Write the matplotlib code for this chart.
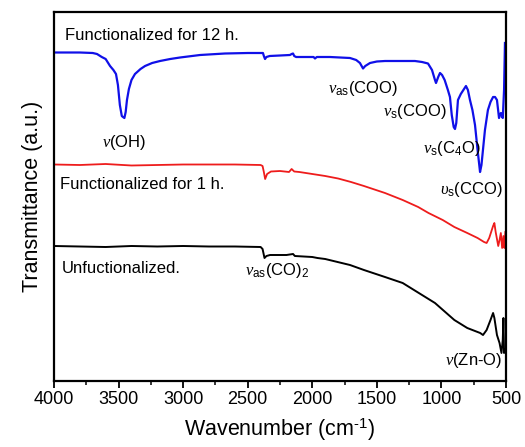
import matplotlib
matplotlib.use("Agg")
import matplotlib.pyplot as plt
from matplotlib.ticker import MultipleLocator

plt.rcParams['font.family'] = ['Liberation Sans', 'DejaVu Sans']
plt.rcParams['mathtext.fontset'] = 'custom'
plt.rcParams['mathtext.rm'] = 'Liberation Sans'
plt.rcParams['mathtext.it'] = 'Liberation Serif:italic'
plt.rcParams['mathtext.sf'] = 'Liberation Sans'

# ---- data (wavenumber cm^-1, transmittance in arbitrary units) ----
wn_12h = [4000, 3800, 3700, 3667, 3630, 3600, 3566, 3540, 3520, 3505, 3490, 3475, 3466,
          3455, 3445, 3435, 3420, 3400, 3373, 3330, 3295, 3240, 3179, 3100, 3024, 2869,
          2676, 2500, 2382, 2375, 2366, 2355, 2330, 2250, 2173, 2160, 2149, 2140, 2125,
          2050, 1990, 1979, 1965, 1863, 1708, 1660, 1631, 1607, 1590, 1553, 1500, 1437,
          1300, 1205, 1150, 1104, 1073, 1050, 1042, 1025, 1011, 995, 975, 950, 934, 920,
          905, 895, 885, 872, 850, 830, 810, 795, 779, 760, 740, 720, 701, 690, 663, 640,
          620, 600, 585, 570, 554, 545, 539, 530, 525, 515, 508]
tr_12h = [328.5, 328.5, 328, 327, 324, 322, 315, 311, 307, 296, 276, 265, 264,
          263, 269, 281, 292, 301, 307, 312, 315, 318, 320, 322, 323.5, 326,
          327.5, 328, 328, 325, 322, 324, 325, 325.5, 326, 327, 327.5, 325, 324,
          324, 324, 322.5, 324, 324, 323, 321, 318, 312.5, 315, 318, 319.5, 320,
          320, 320, 319, 317.5, 311, 301, 298, 304, 308, 306, 301, 291, 284, 266,
          254, 252, 258, 281, 287, 291, 295, 291, 281, 271, 256, 231, 209, 216, 251, 271,
          279, 284, 284, 281, 263, 267, 268, 264, 263, 291, 338]

wn_1h = [4000, 3800, 3600, 3400, 3200, 3000, 2800, 2600, 2400, 2385, 2375, 2365, 2350,
         2320, 2250, 2180, 2160, 2140, 2100, 2000, 1900, 1800, 1700, 1600, 1437, 1300,
         1180, 1100, 990, 900, 800, 720, 670, 650, 630, 600, 590, 580, 560, 550, 540,
         530, 520, 512, 505]
tr_1h = [216.5, 216, 217, 215.5, 216, 216.5, 216.5, 216.5, 216, 215, 209, 202, 207,
         209.5, 210, 209, 212, 209.5, 209, 207, 205, 202.5, 199, 195, 188, 181,
         174, 168, 161, 154, 148, 143, 139, 138, 143, 155, 158, 149, 135, 141, 148,
         133, 145, 133, 149]

wn_0h = [4000, 3800, 3600, 3400, 3200, 3000, 2800, 2600, 2400, 2385, 2370, 2355, 2327,
         2200, 2149, 2135, 2000, 1960, 1900, 1708, 1600, 1437, 1300, 1250, 1050, 900,
         800, 700, 678, 650, 620, 600, 590, 570, 550, 535, 525, 520, 515, 510]
tr_0h = [135, 134.5, 134, 135, 134.5, 135, 134.5, 134.5, 134, 132, 123, 125, 126,
         126, 127, 125, 124, 123, 122, 116, 111, 104, 98, 94, 78, 61,
         53, 48, 46, 51, 61, 68, 63, 46, 38, 28, 41, 63, 28, 31]

labels = ["Functionalized for 12 h.", "Functionalized for 1 h.", "Unfuctionalized."]
colors = ["#1010e8", "#ee1c1c", "#000000"]

fig = plt.figure(figsize=(5.25, 4.47), dpi=100)
ax = fig.add_axes([54/525, 1-381/447, 452/525, 369/447])

ax.plot(wn_12h, tr_12h, color=colors[0], lw=1.6)
ax.plot(wn_1h, tr_1h, color=colors[1], lw=1.3)
ax.plot(wn_0h, tr_0h, color=colors[2], lw=1.4)

ax.set_xlim(4000, 500)
ax.set_ylim(0, 369)
ax.set_yticks([])
ax.xaxis.set_major_locator(MultipleLocator(500))
ax.xaxis.set_minor_locator(MultipleLocator(250))
ax.tick_params(axis='x', which='major', direction='out', length=5, width=1.3,
               labelsize=13, pad=2)
ax.tick_params(axis='x', which='minor', direction='out', length=3, width=1.1)
for s in ax.spines.values():
    s.set_linewidth(1.6)

ax.set_xlabel(r"Wavenumber (cm$^{\text{-1}}$)", fontsize=15.5, labelpad=6)
ax.set_ylabel("Transmittance (a.u.)", fontsize=15.5, labelpad=8)

fs = 12
ax.text(3915, 341, labels[0], fontsize=fs, va='baseline', ha='left')
ax.text(3954, 192, labels[1], fontsize=fs, va='baseline', ha='left')
ax.text(3938, 108, labels[2], fontsize=fs, va='baseline', ha='left')

ax.text(3628, 234, r"$\nu$(OH)", fontsize=fs, va='baseline', ha='left')
ax.text(1878, 288, r"$\nu_{\mathrm{as}}$(COO)", fontsize=fs, va='baseline', ha='left')
ax.text(1452, 265, r"$\nu_{\mathrm{s}}$(COO)", fontsize=fs, va='baseline', ha='left')
ax.text(1143, 228, r"$\nu_{\mathrm{s}}$(C$_{\mathrm{4}}$O)", fontsize=fs, va='baseline', ha='left')
ax.text(1011, 187, r"$\upsilon_{\mathrm{s}}$(CCO)", fontsize=fs, va='baseline', ha='left')
ax.text(2521, 106, r"$\nu_{\mathrm{as}}$(CO)$_{\mathrm{2}}$", fontsize=fs, va='baseline', ha='left')
ax.text(972, 16, r"$\nu$(Zn-O)", fontsize=fs, va='baseline', ha='left')

fig.savefig("out.png", dpi=100)
